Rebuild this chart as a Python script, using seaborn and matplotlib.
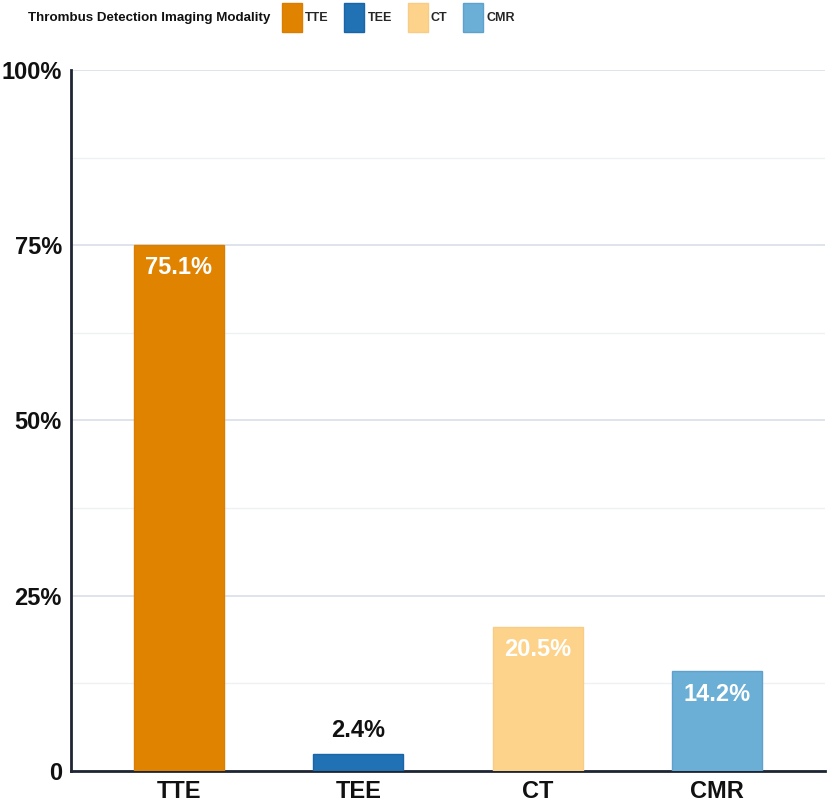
import pandas as pd
import seaborn as sns
import matplotlib.pyplot as plt
from matplotlib.patches import Patch
from matplotlib.ticker import FuncFormatter, MultipleLocator

# données
modalities = ["TTE", "TEE", "CT", "CMR"]
percentages = [75.1, 2.4, 20.5, 14.2]
colors = ["#E08300", "#2171B5", "#FDD38B", "#6BAED6"]
edge_colors = ["#D97E00", "#1A64A8", "#F8CC85", "#5EA2CC"]

df = pd.DataFrame({"Modality": modalities, "Percent": percentages})

sns.set_style("white")
plt.rcParams["font.family"] = ["Liberation Sans", "DejaVu Sans"]
plt.rcParams["font.weight"] = "bold"

fig = plt.figure(figsize=(8.27, 8.08), dpi=100)
ax = fig.add_axes([0.086, 0.0458, 0.9116, 0.8676])

sns.barplot(data=df, x="Modality", y="Percent", hue="Modality",
            palette=colors, width=0.5, legend=False, ax=ax,
            saturation=1, zorder=3)
for bar, ec in zip(ax.patches, edge_colors):
    bar.set_edgecolor(ec)
    bar.set_linewidth(1)

ax.set_xlim(-0.6, 3.6)
ax.set_ylim(0, 100)
ax.yaxis.set_major_locator(MultipleLocator(25))
ax.yaxis.set_minor_locator(MultipleLocator(12.5))
ax.yaxis.set_major_formatter(FuncFormatter(lambda v, p: "0" if v == 0 else f"{v:.0f}%"))
ax.grid(axis="y", which="major", color="#DCE2EA", linewidth=1.3, zorder=0)
ax.grid(axis="y", which="minor", color="#EEF0F3", linewidth=1.0, zorder=0)
ax.set_axisbelow(True)

for side in ["top", "right"]:
    ax.spines[side].set_visible(False)
for side in ["left", "bottom"]:
    ax.spines[side].set_color("#1E2633")
    ax.spines[side].set_linewidth(2)

ax.tick_params(axis="both", which="major", length=3.6, width=1.5, color="#1E2633",
               labelsize=17, labelcolor="#111111", direction="out", pad=3)
ax.tick_params(axis="y", which="minor", length=0)
ax.set_xlabel("")
ax.set_ylabel("")
for lbl in ax.get_xticklabels() + ax.get_yticklabels():
    lbl.set_fontweight("bold")

# étiquettes des valeurs
for i, v in enumerate(percentages):
    if v > 10:
        ax.annotate(f"{v}%", (i, v), xytext=(0, -8), textcoords="offset points",
                    ha="center", va="top", color="white", fontsize=17,
                    fontweight="bold", zorder=4)
    else:
        ax.annotate(f"{v}%", (i, v), xytext=(0, 9), textcoords="offset points",
                    ha="center", va="bottom", color="#111111", fontsize=17,
                    fontweight="bold", zorder=4)

# légende horizontale en haut
fig.text(0.034, 0.978, "Thrombus Detection Imaging Modality", fontsize=9.6,
         fontweight="bold", va="center", ha="left", color="#111111")
handles = [Patch(facecolor=c, edgecolor=e, label=m)
           for m, c, e in zip(modalities, colors, edge_colors)]
fig.legend(handles=handles, loc="center left", bbox_to_anchor=(0.341, 0.978),
           ncol=4, frameon=False, prop={"size": 9, "weight": "bold"},
           handlelength=1.6, handleheight=3.2, handletextpad=0.25,
           columnspacing=1.25, borderaxespad=0, borderpad=0)

plt.savefig("out.png", dpi=100)
